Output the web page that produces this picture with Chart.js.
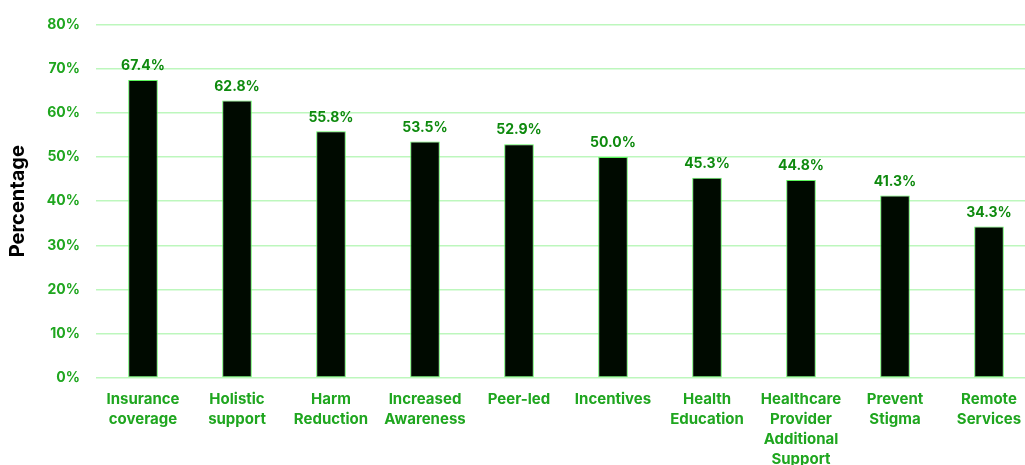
<!DOCTYPE html>
<html>
<head>
<meta charset="utf-8">
<script src="https://cdn.jsdelivr.net/npm/chart.js@4.4.1/dist/chart.umd.min.js"></script>
<style>
  html, body { margin: 0; padding: 0; background: #ffffff; overflow: hidden; }
  #wrap { position: relative; width: 1040px; height: 465px; }
</style>
</head>
<body>
<div id="wrap"><canvas id="bar-chart"></canvas></div>
<script>
// Chart data
const categories = [
  ['Insurance', 'coverage'],
  ['Holistic', 'support'],
  ['Harm', 'Reduction'],
  ['Increased', 'Awareness'],
  'Peer-led',
  'Incentives',
  ['Health', 'Education'],
  ['Healthcare', 'Provider', 'Additional', 'Support'],
  ['Prevent', 'Stigma'],
  ['Remote', 'Services'],
];
const percentages = [67.4, 62.8, 55.8, 53.5, 52.9, 50.0, 45.3, 44.8, 41.3, 34.3];
const yTicks = [0, 10, 20, 30, 40, 50, 60, 70, 80];

const colors = {
  bar: '#000a00',
  barBorder: '#5cf55c',
  grid: '#bdf7bd',
  tick: '#1fa61f',
  label: '#0e8a0e',
  title: '#000000',
};
const fontFamily = 'Inter, "DejaVu Sans", sans-serif';

// Value labels above bars
const valueLabels = {
  id: 'valueLabels',
  afterDatasetsDraw(chart) {
    const ctx = chart.ctx;
    const meta = chart.getDatasetMeta(0);
    ctx.save();
    ctx.font = 'bold 14px ' + fontFamily;
    ctx.fillStyle = colors.label;
    ctx.textAlign = 'center';
    ctx.textBaseline = 'bottom';
    meta.data.forEach((bar, i) => {
      ctx.fillText(percentages[i].toFixed(1) + '%', bar.x, bar.y - 7);
    });
    ctx.restore();
  }
};

new Chart(document.getElementById('bar-chart'), {
  type: 'bar',
  data: {
    labels: categories,
    datasets: [{
      data: percentages,
      backgroundColor: colors.bar,
      borderColor: colors.barBorder,
      borderWidth: 1,
      borderSkipped: false,
      barPercentage: 0.315,
      categoryPercentage: 1,
    }]
  },
  options: {
    responsive: true,
    maintainAspectRatio: false,
    animation: false,
    layout: { padding: { top: 20, right: 4, bottom: 0, left: 0 } },
    plugins: {
      legend: { display: false },
      tooltip: { enabled: false },
    },
    scales: {
      x: {
        grid: { display: false, drawTicks: false },
        border: { display: false },
        ticks: {
          color: colors.tick,
          font: { family: fontFamily, size: 15, weight: 'bold', lineHeight: 1.33 },
          padding: 12,
          maxRotation: 0,
          autoSkip: false,
        },
        afterFit(scale) { scale.height = 87; },
      },
      y: {
        min: 0,
        max: 80,
        afterBuildTicks(scale) { scale.ticks = yTicks.map(v => ({ value: v })); },
        grid: { color: colors.grid, lineWidth: 1.5, drawTicks: false },
        border: { display: false },
        ticks: {
          color: colors.tick,
          font: { family: fontFamily, size: 14, weight: 'bold' },
          padding: 16,
          callback: v => v + '%',
        },
        title: {
          display: true,
          text: 'Percentage',
          color: colors.title,
          font: { family: fontFamily, size: 20, weight: 'bold' },
          padding: { top: 6, bottom: 4 },
        },
        afterFit(scale) { scale.width = 96; },
      }
    }
  },
  plugins: [valueLabels]
});
</script>
</body>
</html>
